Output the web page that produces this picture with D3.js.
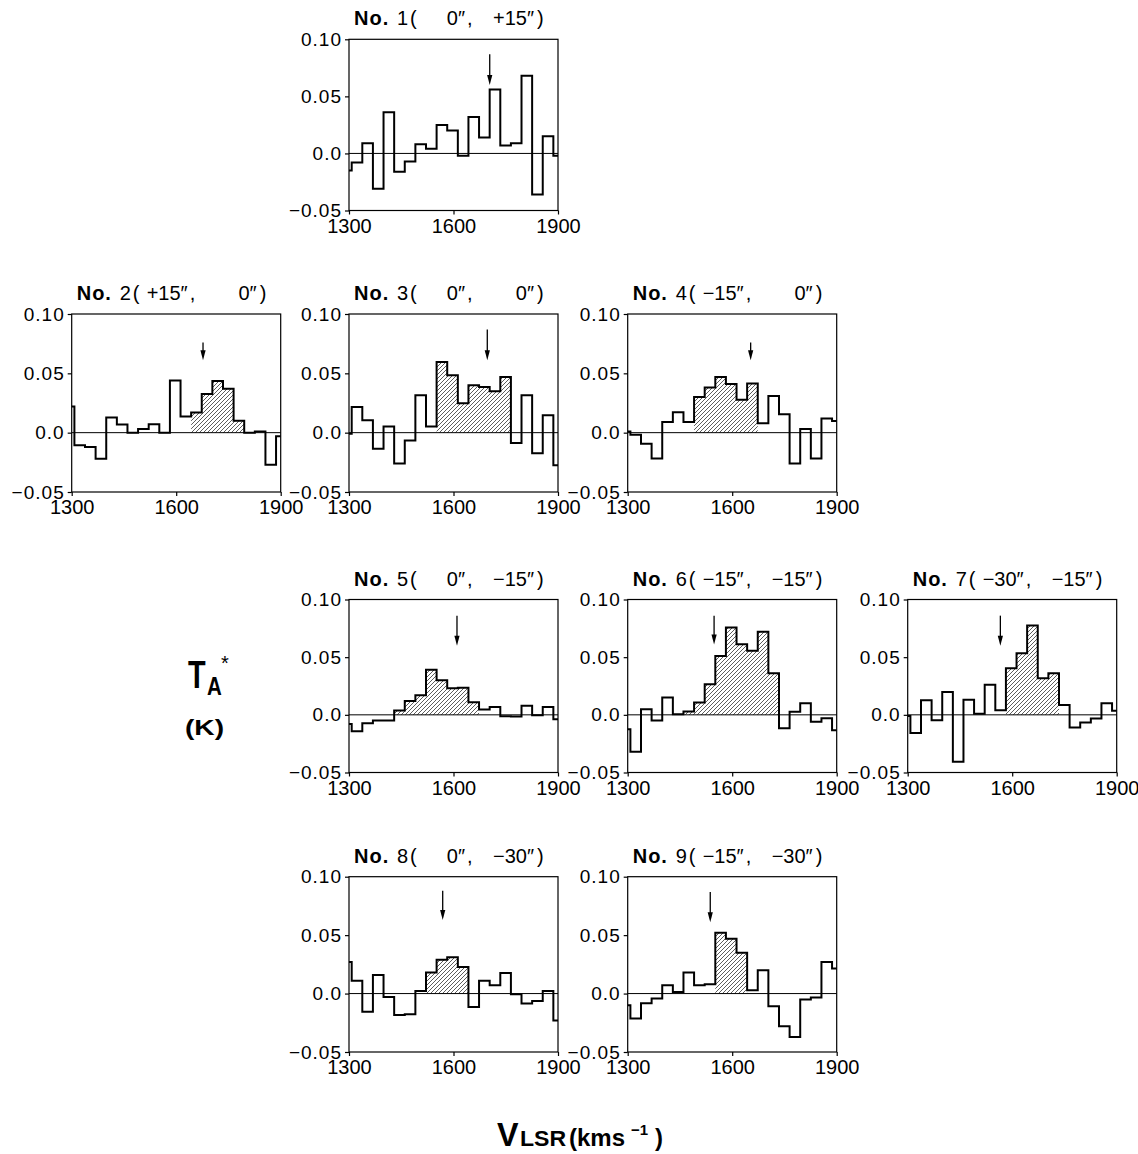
<!DOCTYPE html>
<html>
<head>
<meta charset="utf-8">
<script src="https://cdn.jsdelivr.net/npm/d3@7"></script>
<style>
body { margin: 0; background: #fff; }
svg { display: block; font-family: "Liberation Sans", Arial, sans-serif; }
</style>
</head>
<body>
<div id="chart"></div>
<script>
// channel centres, km/s
var velocity = [1292.5, 1323.0, 1353.4, 1383.9, 1414.4, 1444.9, 1475.3, 1505.8, 1536.3, 1566.7, 1597.2,
	1627.7, 1658.1, 1688.6, 1719.1, 1749.6, 1780.0, 1810.5, 1841.0, 1871.4, 1901.9];

var yTicks = [0.10, 0.05, 0.0, -0.05];
var yTickLabels = ["0.10", "0.05", "0.0", "\u22120.05"];
var xTicks = [1300, 1600, 1900];
var xTickLabels = ["1300", "1600", "1900"];

// panel titles
var panelNo = ["1", "2", "3", "4", "5", "6", "7", "8", "9"];
var raOffset = ["0\u2033", "+15\u2033", "0\u2033", "\u221215\u2033", "0\u2033", "\u221215\u2033", "\u221230\u2033", "0\u2033", "\u221215\u2033"];
var decOffset = ["+15\u2033", "0\u2033", "0\u2033", "0\u2033", "\u221215\u2033", "\u221215\u2033", "\u221215\u2033", "\u221230\u2033", "\u221230\u2033"];

// antenna temperature TA* (K) per channel
var spec1 = [-0.015, -0.008, 0.009, -0.031, 0.036, -0.016, -0.007, 0.008, 0.004, 0.025, 0.020,
	-0.002, 0.032, 0.014, 0.056, 0.007, 0.009, 0.068, -0.036, 0.015, -0.002];
var spec2 = [0.022, -0.0105, -0.012, -0.022, 0.0127, 0.0068, 0.0, 0.003, 0.007, 0.0, 0.044,
	0.0136, 0.017, 0.0325, 0.0435, 0.037, 0.010, 0.0, 0.001, -0.027, -0.003];
var spec3 = [-0.001, 0.0216, 0.0104, -0.0135, 0.0053, -0.026, -0.0067, 0.0315, 0.0053, 0.0596, 0.0483,
	0.0247, 0.040, 0.0385, 0.035, 0.047, -0.0087, 0.0315, -0.0174, 0.0146, -0.0275];
var spec4 = [0.001, -0.0017, -0.0093, -0.0217, 0.009, 0.0172, 0.009, 0.030, 0.038, 0.047, 0.041,
	0.0277, 0.0415, 0.0079, 0.031, 0.0155, -0.026, 0.003, -0.0217, 0.0119, 0.0099];
var spec5 = [-0.008, -0.0142, -0.0072, -0.005, -0.005, 0.0038, 0.012, 0.017, 0.039, 0.030, 0.023,
	0.0235, 0.011, 0.0046, 0.0067, -0.0012, -0.0015, 0.0078, -0.0003, 0.0067, -0.0038];
var spec6 = [-0.0124, -0.032, 0.0049, -0.0049, 0.015, 0.0006, 0.0029, 0.0107, 0.0266, 0.051, 0.0757,
	0.0613, 0.0555, 0.072, 0.036, -0.0116, 0.0026, 0.0101, -0.0061, -0.0029, -0.0133];
var spec7 = [-0.001, -0.0158, 0.0127, -0.0046, 0.0199, -0.0406, 0.013, 0.0009, 0.026, 0.004, 0.0403,
	0.0533, 0.0775, 0.0317, 0.036, 0.0086, -0.011, -0.0066, -0.0032, 0.010, 0.0035];
var spec8 = [0.027, 0.0109, -0.0155, 0.0158, -0.0029, -0.0184, -0.0178, 0.0023, 0.018, 0.029, 0.031,
	0.0227, -0.0115, 0.0109, 0.0072, 0.0175, -0.0006, -0.0086, -0.0063, 0.0023, -0.023];
var spec9 = [-0.010, -0.0214, -0.0083, -0.0043, 0.0071, 0.0014, 0.018, 0.0071, 0.008, 0.052, 0.047,
	0.0349, 0.0029, 0.020, -0.0109, -0.028, -0.0371, -0.0051, -0.0034, 0.0271, 0.0214];

// hatched (integrated) channels: first and last channel centre
var hatchFrom = [null, 1658.1, 1566.7, 1505.8, 1444.9, 1475.3, 1597.2, 1536.3, 1566.7];
var hatchTo   = [null, 1780.0, 1749.6, 1658.1, 1658.1, 1719.1, 1719.1, 1627.7, 1627.7];

// arrows: velocity, tail and tip level (K)
var arrowVel  = [1704, 1677, 1697, 1653, 1610, 1548, 1566, 1569, 1537];
var arrowTail = [0.087, 0.076, 0.087, 0.076, 0.086, 0.086, 0.086, 0.088, 0.087];
var arrowTip  = [0.060, 0.061, 0.061, 0.061, 0.060, 0.061, 0.060, 0.063, 0.061];

var spectra = [spec1, spec2, spec3, spec4, spec5, spec6, spec7, spec8, spec9];

// grid layout
var cell = [[1, 0], [0, 1], [1, 1], [2, 1], [1, 2], [2, 2], [3, 2], [1, 3], [2, 3]];
var colLeft = [71.7, 349, 627.7, 907.7];
var rowTop = [39.3, 314, 599.5, 876.7];
var rowBottom = [210.5, 492, 772.5, 1052];
var panelW = 209;

var svg = d3.select("#chart").append("svg")
	.attr("width", 1138)
	.attr("height", 1154);
svg.append("rect").attr("width", 1138).attr("height", 1154).attr("fill", "#fff");

var defs = svg.append("defs");
defs.append("pattern")
	.attr("id", "hatch")
	.attr("patternUnits", "userSpaceOnUse")
	.attr("width", 4).attr("height", 4)
	.append("path")
	.attr("d", "M-1,1 l2,-2 M0,4 l4,-4 M3,5 l2,-2")
	.attr("stroke", "#333")
	.attr("stroke-width", 0.8);

// channel edges from the centres
function edges(i) {
	var c = velocity[i];
	var lo = i > 0 ? (velocity[i - 1] + c) / 2 : c - (velocity[1] - velocity[0]) / 2;
	var hi = i < velocity.length - 1 ? (velocity[i + 1] + c) / 2 : c + (c - velocity[i - 1]) / 2;
	return [lo, hi];
}

spectra.forEach(function(spec, p) {
	var L = colLeft[cell[p][0]];
	var top = rowTop[cell[p][1]];
	var bottom = rowBottom[cell[p][1]];

	var x = d3.scaleLinear().domain([1300, 1900]).range([L, L + panelW]);
	var y = d3.scaleLinear().domain([-0.05, 0.10]).range([bottom, top]);

	var g = svg.append("g");

	defs.append("clipPath").attr("id", "clip" + p)
		.append("rect")
		.attr("x", L).attr("y", top)
		.attr("width", panelW).attr("height", bottom - top);

	// step points
	var pts = spec.map(function(v, i) { return {v0: edges(i)[0], t: v}; });
	pts.push({v0: edges(spec.length - 1)[1], t: spec[spec.length - 1]});

	var plot = g.append("g").attr("clip-path", "url(#clip" + p + ")");

	if (hatchFrom[p] !== null) {
		var hp = [];
		velocity.forEach(function(c, i) {
			if (c >= hatchFrom[p] - 1 && c <= hatchTo[p] + 1) hp.push({v0: edges(i)[0], t: spec[i], i: i});
		});
		var last = hp[hp.length - 1];
		hp.push({v0: edges(last.i)[1], t: last.t});
		var area = d3.area()
			.curve(d3.curveStepAfter)
			.x(function(d) { return x(d.v0); })
			.y0(y(0))
			.y1(function(d) { return y(d.t); });
		plot.append("path")
			.attr("d", area(hp))
			.attr("fill", "url(#hatch)")
			.attr("stroke", "none");
	}

	// zero line
	g.append("line")
		.attr("x1", L).attr("x2", L + panelW)
		.attr("y1", y(0)).attr("y2", y(0))
		.attr("stroke", "#000").attr("stroke-width", 1);

	var line = d3.line()
		.curve(d3.curveStepAfter)
		.x(function(d) { return x(d.v0); })
		.y(function(d) { return y(d.t); });
	plot.append("path")
		.attr("d", line(pts))
		.attr("fill", "none")
		.attr("stroke", "#000")
		.attr("stroke-width", 2);

	// frame
	g.append("rect")
		.attr("x", L).attr("y", top)
		.attr("width", panelW).attr("height", bottom - top)
		.attr("fill", "none").attr("stroke", "#000").attr("stroke-width", 1.2);

	// axes
	var yAxis = d3.axisLeft(y).tickValues(yTicks).tickSize(4).tickPadding(3)
		.tickFormat(function(d, i) { return yTickLabels[i]; });
	var ya = g.append("g").attr("transform", "translate(" + L + ",0)").call(yAxis);
	ya.select(".domain").remove();
	ya.selectAll("line").attr("stroke-width", 1.2);
	ya.selectAll("text")
		.style("font-size", "19px")
		.style("letter-spacing", "1px")
		.attr("fill", "#000");

	var xAxis = d3.axisBottom(x).tickValues(xTicks).tickSize(4).tickPadding(4)
		.tickFormat(function(d, i) { return xTickLabels[i]; });
	var xa = g.append("g").attr("transform", "translate(0," + bottom + ")").call(xAxis);
	xa.select(".domain").remove();
	xa.selectAll("line").attr("stroke-width", 1.2);
	xa.selectAll("text")
		.style("font-size", "20px")
		.attr("fill", "#000");

	// arrow
	var ax = x(arrowVel[p]);
	g.append("line")
		.attr("x1", ax).attr("x2", ax)
		.attr("y1", y(arrowTail[p])).attr("y2", y(arrowTip[p]) - 6)
		.attr("stroke", "#000").attr("stroke-width", 1.3);
	g.append("path")
		.attr("d", "M" + (ax - 2.6) + "," + (y(arrowTip[p]) - 10) + "L" + (ax + 2.6) + "," + (y(arrowTip[p]) - 10) + "L" + ax + "," + y(arrowTip[p]) + "Z")
		.attr("fill", "#000");

	// title
	var ty = top - 14;
	var t = g.append("g").style("font-size", "20px");
	t.append("text").attr("x", L + 5).attr("y", ty)
		.style("font-weight", "bold").style("letter-spacing", "1px").text("No.");
	t.append("text").attr("x", L + 48).attr("y", ty).text(panelNo[p]);
	t.append("text").attr("x", L + 61).attr("y", ty).text("(");
	t.append("text").attr("x", L + 116).attr("y", ty).attr("text-anchor", "end").text(raOffset[p]);
	t.append("text").attr("x", L + 118).attr("y", ty).text(",");
	t.append("text").attr("x", L + 185).attr("y", ty).attr("text-anchor", "end").text(decOffset[p]);
	t.append("text").attr("x", L + 188).attr("y", ty).text(")");
});

// y axis title
var yl = svg.append("g").attr("fill", "#000");
yl.append("text").attr("transform", "translate(188,688) scale(0.76,1)")
	.style("font-size", "38px").style("font-weight", "bold").text("T");
yl.append("text").attr("transform", "translate(207,695) scale(0.82,1)")
	.style("font-size", "25px").style("font-weight", "bold").text("A");
yl.append("text").attr("x", 221).attr("y", 670)
	.style("font-size", "20px").text("*");
yl.append("text").attr("transform", "translate(185,735) scale(1.28,1)")
	.style("font-size", "22px").style("font-weight", "bold").text("(K)");

// x axis title
var xl = svg.append("g").attr("fill", "#000");
xl.append("text").attr("transform", "translate(497,1146) scale(0.95,1)")
	.style("font-size", "34px").style("font-weight", "bold").text("V");
xl.append("text").attr("transform", "translate(520,1146) scale(1.05,1)")
	.style("font-size", "22px").style("font-weight", "bold").text("LSR");
xl.append("text").attr("transform", "translate(569,1146) scale(1.0,1)")
	.style("font-size", "24px").style("font-weight", "bold").text("(kms");
xl.append("text").attr("x", 631).attr("y", 1135)
	.style("font-size", "15px").style("font-weight", "bold").text("\u22121");
xl.append("text").attr("x", 655).attr("y", 1146)
	.style("font-size", "24px").style("font-weight", "bold").text(")");
</script>
</body>
</html>
